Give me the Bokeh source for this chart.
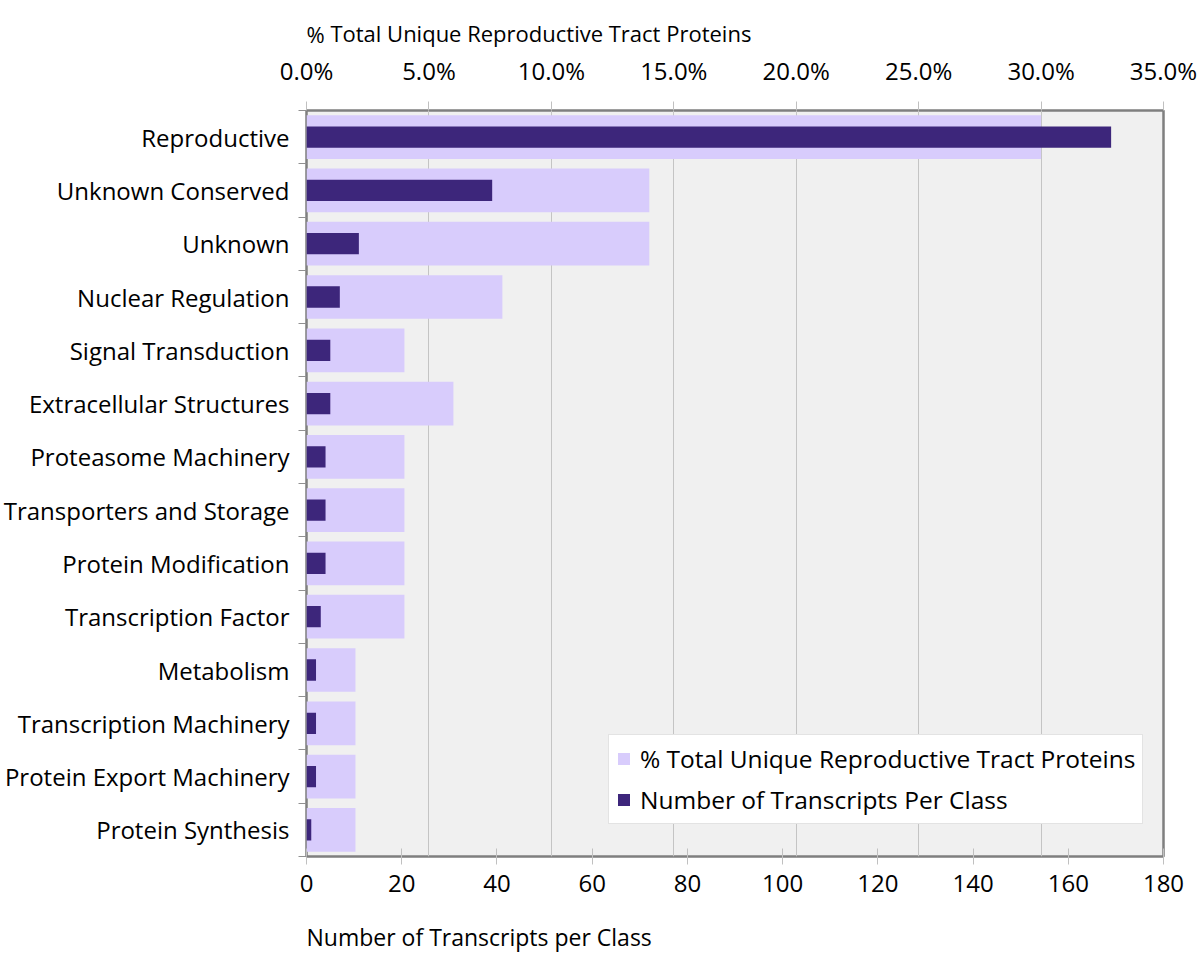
from bokeh.plotting import figure
from bokeh.models import (Range1d, LinearAxis, SingleIntervalTicker, FixedTicker,
                          PrintfTickFormatter, Grid, Legend, LegendItem, ColumnDataSource)
from bokeh.embed import file_html
from bokeh.resources import INLINE

categories = ["Reproductive", "Unknown Conserved", "Unknown", "Nuclear Regulation",
              "Signal Transduction", "Extracellular Structures", "Proteasome Machinery",
              "Transporters and Storage", "Protein Modification", "Transcription Factor",
              "Metabolism", "Transcription Machinery", "Protein Export Machinery",
              "Protein Synthesis"]
pct_total = [30, 14, 14, 8, 4, 6, 4, 4, 4, 4, 2, 2, 2, 2]
transcripts = [169, 39, 11, 7, 5, 5, 4, 4, 4, 3, 2, 2, 2, 1]

FONT = "Open Sans"
LIGHT = "#d8ccfc"
DARK = "#3d267b"

n_cat = len(categories)
ypos = [i + 0.5 for i in range(n_cat)]  # category slots, top to bottom
src = ColumnDataSource(dict(y=ypos, pct=pct_total, n=transcripts))

p = figure(width=1200, height=972, output_backend="svg", toolbar_location=None,
           y_range=Range1d(n_cat, 0), x_range=Range1d(0, 180),
           x_axis_location="below", y_axis_location=None,
           min_border_left=306, min_border_right=37, min_border_top=108, min_border_bottom=116)
p.extra_x_ranges = {"pct": Range1d(0, 35)}

p.background_fill_color = "#f0f0f0"
p.border_fill_color = "white"
p.outline_line_color = "#7f7f7f"
p.outline_line_width = 2.5

r_light = p.hbar(y="y", right="pct", left=0, height=0.82, source=src, x_range_name="pct",
                 fill_color=LIGHT, line_color=None)
r_dark = p.hbar(y="y", right="n", left=0, height=0.4, source=src,
                fill_color=DARK, line_color=None)


def left_align(axis, tiny_angle):
    for v in ("start", "left"):
        try:
            axis.axis_label_align = v
            break
        except (AttributeError, ValueError):
            pass
    axis.axis_label_orientation = tiny_angle
    axis.axis_label_text_align = "left"


# bottom axis
bx = p.xaxis[0]
bx.ticker = SingleIntervalTicker(interval=20)
bx.axis_line_color = None
bx.major_tick_in = 8
bx.major_tick_out = 8
bx.major_tick_line_color = "#c0c0c0"
bx.minor_tick_line_color = None
bx.major_label_text_font = FONT
bx.major_label_text_font_size = "24px"
bx.major_label_text_color = "black"
bx.major_label_standoff = 10
bx.axis_label = "Number of Transcripts per Class"
bx.axis_label_text_font = FONT
bx.axis_label_text_font_size = "23px"
bx.axis_label_text_font_style = "normal"
bx.axis_label_text_color = "black"
bx.axis_label_standoff = 42
left_align(bx, -1e-6)

# top axis (percent)
tx = LinearAxis(x_range_name="pct", ticker=SingleIntervalTicker(interval=5),
                formatter=PrintfTickFormatter(format="%.1f%%"))
tx.axis_line_color = None
tx.major_tick_in = 0
tx.major_tick_out = 9
tx.major_tick_line_color = "#c0c0c0"
tx.minor_tick_line_color = None
tx.major_label_text_font = FONT
tx.major_label_text_font_size = "24px"
tx.major_label_text_color = "black"
tx.major_label_standoff = 15
tx.axis_label = "% Total Unique Reproductive Tract Proteins"
tx.axis_label_text_font = FONT
tx.axis_label_text_font_size = "22px"
tx.axis_label_text_font_style = "normal"
tx.axis_label_text_color = "black"
tx.axis_label_standoff = 17
left_align(tx, 1e-6)
p.add_layout(tx, "above")

# left: tick marks between categories, then category labels
bounds = list(range(n_cat + 1))
ly = LinearAxis(ticker=FixedTicker(ticks=bounds),
                major_label_overrides={b: "" for b in bounds})
ly.axis_line_color = None
ly.major_tick_in = 0
ly.major_tick_out = 8
ly.major_tick_line_color = "#909090"
ly.minor_tick_line_color = None
ly.major_label_standoff = 0
p.add_layout(ly, "left")

cy = LinearAxis(ticker=FixedTicker(ticks=ypos),
                major_label_overrides={y: c for y, c in zip(ypos, categories)})
cy.axis_line_color = None
cy.major_tick_line_color = None
cy.major_tick_in = 0
cy.major_tick_out = 0
cy.minor_tick_line_color = None
cy.major_label_text_font = FONT
cy.major_label_text_font_size = "24px"
cy.major_label_text_color = "black"
cy.major_label_standoff = 9
p.add_layout(cy, "left")

# grid follows the percent axis
p.xgrid.visible = False
p.ygrid.visible = False
g = Grid(dimension=0, ticker=SingleIntervalTicker(interval=5), x_range_name="pct",
         grid_line_color="#c4c4c4", grid_line_width=1)
p.add_layout(g)

legend = Legend(items=[LegendItem(label="% Total Unique Reproductive Tract Proteins", renderers=[r_light]),
                       LegendItem(label="Number of Transcripts Per Class", renderers=[r_dark])],
                location=(302, 32), orientation="vertical")
legend.label_text_font = FONT
legend.label_text_font_size = "24.5px"
legend.label_text_color = "black"
legend.glyph_width = 15
legend.glyph_height = 15
legend.label_standoff = 9
legend.padding = 7
legend.spacing = 8
legend.margin = 0
legend.border_line_color = "#c8c8c8"
legend.border_line_width = 1
legend.background_fill_color = "white"
legend.background_fill_alpha = 1
p.add_layout(legend, "center")

open("out.html", "w").write(file_html(p, INLINE))
